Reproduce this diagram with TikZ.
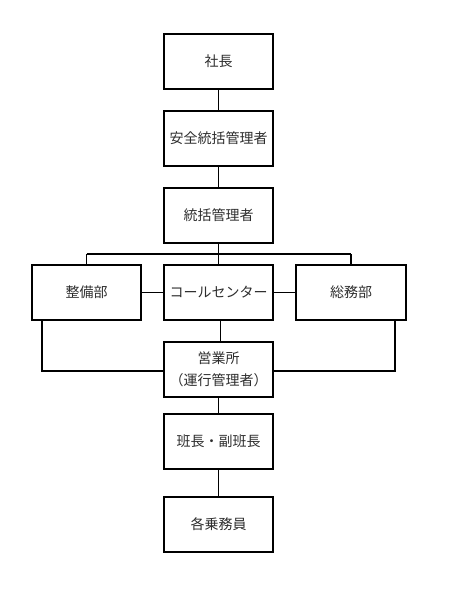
\documentclass[tikz,border=0pt]{standalone}
\usepackage{fontspec}
\newfontfamily\jp{Noto Sans CJK JP}
\definecolor{txt}{RGB}{45,45,45}
\begin{document}
\begin{tikzpicture}[x=1pt,y=-1pt,
  orgbox/.style={draw, line width=1.6pt, minimum width=109pt, minimum height=55pt, inner sep=0pt,
    font=\jp\fontsize{14pt}{22pt}\selectfont, text=txt, align=center},
  link/.style={line width=1.5pt}]
\useasboundingbox (0,0) rectangle (450,589);
\node[orgbox] (pres) at (218.5,61.5) {社長};
\node[orgbox] (safe) at (218.5,138.5) {安全統括管理者};
\node[orgbox] (gen) at (218.5,215.5) {統括管理者};
\node[orgbox] (maint) at (86.5,292.5) {整備部};
\node[orgbox] (call) at (218.5,292.5) {コールセンター};
\node[orgbox, minimum width=110pt] (admin) at (351,292.5) {総務部};
\node[orgbox] (office) at (218.5,369.5) {営業所\\（運行管理者）};
\node[orgbox] (lead) at (218.5,441.5) {班長・副班長};
\node[orgbox] (crew) at (218.5,524.5) {各乗務員};
\coordinate (bus) at (218.5,254);
\coordinate (busl) at (86.5,254);
\coordinate (busr) at (351,254);
\draw[link] (pres) -- (safe);
\draw[link] (safe) -- (gen);
\draw[link] (gen) -- (call);
\draw[link] (busl) -- (busr);
\draw[link] (busl) -- (maint.north);
\draw[link] (busr) -- (admin.north);
\draw[link] (maint) -- (call);
\draw[link] (call) -- (admin);
\draw[link] ([xshift=2pt]call.south) -- ([xshift=2pt]office.north);
\draw[link] ([xshift=11pt]maint.south west) |- ([yshift=-1.5pt]office.west);
\draw[link] ([xshift=-12pt]admin.south east) |- ([yshift=-1.5pt]office.east);
\draw[link] (office) -- (lead);
\draw[link] (lead) -- (crew);
\end{tikzpicture}
\end{document}
